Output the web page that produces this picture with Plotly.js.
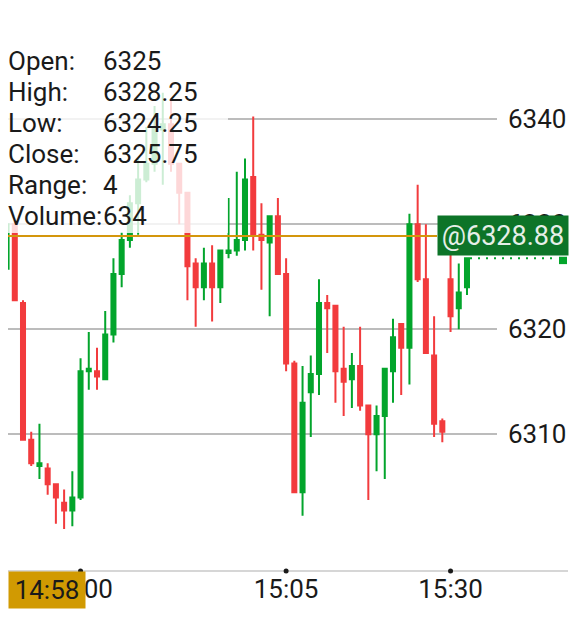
<!DOCTYPE html>
<html>
<head>
<meta charset="utf-8">
<script src="https://cdn.plot.ly/plotly-3.0.1.min.js"></script>
<style>
html,body{margin:0;padding:0;background:#fff;}
#chart{width:576px;height:625px;}
</style>
</head>
<body>
<div id="chart"></div>
<script>
// ---- data ----
const barIndex = Array.from({length: 57}, (_, i) => i);
const openVals = [6325.75, 6330.0, 6322.5, 6309.5, 6307.0, 6306.75, 6305.25, 6303.5, 6302.75, 6304.0,
  6316.0, 6316.0, 6315.25, 6319.5, 6325.25, 6328.5, 6332.0, 6334.25, 6335.75, 6339.0,
  6339.5, 6335.75, 6333.0, 6326.25, 6324.0, 6326.25, 6324.0, 6327.25, 6327.5, 6328.5,
  6334.5, 6329.0, 6328.25, 6330.75, 6325.25, 6316.75, 6304.5, 6314.0, 6315.75, 6322.5,
  6322.25, 6316.25, 6315.25, 6316.5, 6312.75, 6310.0, 6311.75, 6316.0, 6320.5, 6318.25,
  6330.0, 6324.75, 6317.5, 6311.25, 6324.75, 6322.0, 6324.0];
const highVals = [6330.25, 6330.25, 6322.75, 6310.25, 6311.0, 6307.25, 6305.25, 6304.75, 6306.5, 6317.25,
  6319.75, 6318.25, 6321.75, 6326.75, 6329.25, 6332.75, 6336.25, 6339.25, 6341.25, 6342.5,
  6341.75, 6335.75, 6333.0, 6326.75, 6327.75, 6328.0, 6327.5, 6332.5, 6335.0, 6336.25,
  6340.25, 6332.0, 6330.75, 6332.5, 6326.75, 6317.0, 6316.5, 6317.5, 6324.75, 6323.25,
  6322.25, 6320.25, 6317.75, 6320.25, 6312.75, 6312.75, 6316.25, 6321.0, 6320.5, 6331.0,
  6333.75, 6330.0, 6321.25, 6311.5, 6327.25, 6326.25, 6326.75];
const lowVals = [6325.25, 6322.75, 6309.5, 6307.0, 6305.75, 6304.25, 6301.5, 6301.0, 6301.25, 6303.75,
  6314.25, 6314.25, 6315.25, 6318.75, 6324.0, 6327.75, 6329.0, 6334.0, 6335.0, 6333.75,
  6335.0, 6330.0, 6322.75, 6320.25, 6322.75, 6320.75, 6322.5, 6326.75, 6327.0, 6327.5,
  6327.5, 6323.75, 6321.25, 6325.25, 6316.0, 6304.5, 6302.25, 6309.75, 6313.75, 6317.75,
  6313.0, 6311.75, 6312.5, 6312.25, 6303.75, 6306.5, 6305.75, 6313.0, 6313.75, 6314.75,
  6324.5, 6317.75, 6309.75, 6309.25, 6319.75, 6320.0, 6323.25];
const closeVals = [6330.0, 6322.75, 6309.5, 6307.25, 6307.25, 6305.25, 6304.0, 6302.75, 6304.0, 6316.0,
  6316.25, 6315.5, 6319.5, 6325.25, 6328.5, 6332.0, 6334.25, 6335.75, 6339.25, 6339.5,
  6335.75, 6333.0, 6326.0, 6324.0, 6326.25, 6324.0, 6327.5, 6327.5, 6328.5, 6334.25,
  6329.0, 6328.5, 6330.75, 6325.25, 6316.75, 6304.5, 6313.0, 6315.75, 6322.5, 6322.0,
  6316.0, 6315.0, 6316.5, 6312.75, 6310.0, 6311.75, 6316.25, 6319.25, 6318.25, 6330.0,
  6324.75, 6317.75, 6311.0, 6310.25, 6321.25, 6323.5, 6326.75];

const timeTickIndex = [9, 34, 54];
const timeTickLabels = ['15:00', '15:05', '15:30'];
const priceTicks = [6310, 6320, 6330, 6340];

const legendLabels = ['Open:', 'High:', 'Low:', 'Close:', 'Range:', 'Volume:'];
const legendValues = ['6325', '6328.25', '6324.25', '6325.75', '4', '634'];

const markerPrice = 6328.88;
const markerPriceText = '@6328.88';
const cursorTimeText = '14:58';

// ---- layout constants ----
const FONT = 'Roboto, "Noto Sans", sans-serif';
const PLOT_H = 571;          // plot area height in px (top margin 0)
const yMin = 6297.0, yMax = 6351.33;
const up = '#03a52c', down = '#f23b3d';
const lastClose = closeVals[closeVals.length - 1];

function pyPaper(px) { return 1 - px / PLOT_H; }

const traces = [
  {
    type: 'candlestick',
    x: barIndex,
    open: openVals, high: highVals, low: lowVals, close: closeVals,
    increasing: {line: {color: up, width: 2}, fillcolor: up},
    decreasing: {line: {color: down, width: 2}, fillcolor: down},
    hoverinfo: 'skip',
    showlegend: false
  }
];

const annotations = [];
legendLabels.forEach((t, i) => {
  const yc = pyPaper(61 + 31 * i);
  annotations.push({xref: 'paper', yref: 'paper', x: -0.002, y: yc, xanchor: 'left', yanchor: 'middle',
    text: t, showarrow: false, font: {family: FONT, size: 26, color: '#1a1a1a'}, borderpad: 0});
  annotations.push({xref: 'paper', yref: 'paper', x: (102 - 8) / 489, y: yc, xanchor: 'left', yanchor: 'middle',
    text: legendValues[i], showarrow: false, font: {family: FONT, size: 26, color: '#1a1a1a'}, borderpad: 0});
});
annotations.push({
  xref: 'paper', yref: 'y', x: (437 - 8) / 489, y: markerPrice, xanchor: 'left', yanchor: 'middle',
  text: markerPriceText, showarrow: false, bgcolor: '#0d7428', width: 122, height: 31, borderpad: 4,
  font: {family: FONT, size: 27, color: '#e6efe8'}
});
annotations.push({
  xref: 'paper', yref: 'paper', x: 0, y: 0, xanchor: 'left', yanchor: 'top',
  text: cursorTimeText, showarrow: false, bgcolor: '#d19a02', width: 72, height: 32, borderpad: 2,
  font: {family: FONT, size: 26, color: '#1a1a1a'}
});

const shapes = [
  {type: 'line', xref: 'paper', yref: 'paper', x0: 0, x1: (568 - 8) / 489, y0: 0, y1: 0,
    line: {color: '#c8c8c8', width: 1.5}, layer: 'above'},
  {type: 'line', xref: 'paper', yref: 'y', x0: 0, x1: (437 - 8) / 489, y0: markerPrice, y1: markerPrice,
    line: {color: '#d4960c', width: 2}, layer: 'above'},
  {type: 'rect', xref: 'paper', yref: 'paper', x0: -8 / 489, x1: 220 / 489, y0: pyPaper(233), y1: pyPaper(40),
    fillcolor: 'rgba(255,255,255,0.8)', line: {width: 0}, layer: 'above'},
  {type: 'line', xref: 'paper', yref: 'y', x0: (470 - 8) / 489, x1: (558 - 8) / 489, y0: lastClose, y1: lastClose,
    line: {color: up, width: 2, dash: '2px,6px'}, layer: 'above'},
  {type: 'rect', xref: 'paper', yref: 'y', x0: (559 - 8) / 489, x1: (567 - 8) / 489,
    y0: lastClose - 0.55, y1: lastClose + 0.15, fillcolor: up, line: {width: 0}, layer: 'above'}
];
// tick dots on the time axis, placed at the tick bars
timeTickIndex.forEach(ix => {
  shapes.push({type: 'circle', xref: 'x', yref: 'paper', xsizemode: 'pixel', ysizemode: 'pixel',
    xanchor: ix, yanchor: 0, x0: -2.5, x1: 2.5, y0: -2.5, y1: 2.5,
    fillcolor: '#1a1a1a', line: {width: 0}, layer: 'above'});
});

const layout = {
  width: 576, height: 625,
  margin: {l: 8, r: 79, t: 0, b: 54, pad: 0},
  paper_bgcolor: '#ffffff', plot_bgcolor: '#ffffff',
  showlegend: false,
  hovermode: false,
  xaxis: {
    range: [0.175, 59.65], rangeslider: {visible: false},
    tickmode: 'array', tickvals: timeTickIndex, ticktext: timeTickLabels,
    showgrid: false, zeroline: false, showline: false, ticks: '',
    tickfont: {family: FONT, size: 26, color: '#1a1a1a'}, fixedrange: true
  },
  yaxis: {
    side: 'right', range: [yMin, yMax],
    tickmode: 'array', tickvals: priceTicks,
    showgrid: true, gridcolor: '#bcbcbc', gridwidth: 2,
    zeroline: false, showline: false, ticks: '', ticklabelstandoff: 10,
    tickfont: {family: FONT, size: 26, color: '#1a1a1a'}, fixedrange: true
  },
  shapes: shapes,
  annotations: annotations
};

Plotly.newPlot('chart', traces, layout, {displayModeBar: false, staticPlot: true});
</script>
</body>
</html>
